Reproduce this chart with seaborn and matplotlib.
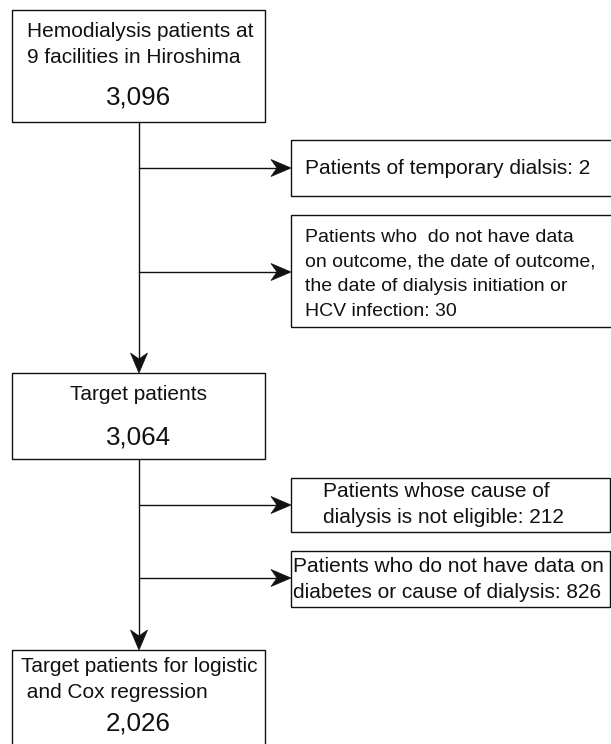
import matplotlib
matplotlib.use("Agg")
import matplotlib.pyplot as plt
import seaborn as sns
from matplotlib.patches import Rectangle, Polygon

sns.set_theme(style = "white")
plt.rcParams["font.family"] = ["Liberation Sans", "DejaVu Sans"]

# flow boxes (main path)
main_labels = ["Hemodialysis patients at\n9 facilities in Hiroshima", "Target patients", "Target patients for logistic\n and Cox regression"]
main_counts = [3096, 3064, 2026]

# exclusion boxes
excl_labels = ["Patients of temporary dialsis: {}",
               "Patients who  do not have data\non outcome, the date of outcome,\nthe date of dialysis initiation or\nHCV infection: {}",
               "Patients whose cause of\ndialysis is not eligible: {}",
               "Patients who do not have data on\ndiabetes or cause of dialysis: {}"]
excl_counts = [2, 30, 212, 826]

# layout in pixels (x0, y0, x1, y1)
main_box = [(12, 10, 265, 122), (12, 373, 265, 459), (12, 650, 265, 770)]
main_label_xy = [(27, 44.5, "left"), (138, 395, "center"), (21, 679.5, "left")]
main_count_y = [97, 437, 723]
excl_box = [(291, 140, 630, 196), (291, 215, 630, 327), (291, 478, 610, 532), (291, 551, 610, 607)]
excl_label_xy = [(305, 168), (305, 274.5), (323, 504.5), (293, 579.5)]
excl_size = [15, 14, 15, 15]
excl_arrow_y = [168, 272, 505, 578]
spine_x = 139
ink = "#111111"
lw = 1.0
line_px = 25


def spacing(size):
    # linespacing that gives about line_px pixels between baselines
    return line_px / (0.81 * size * 100 / 72)


fig = plt.figure(figsize = (6.11, 7.44), dpi = 100)
ax = fig.add_axes([0, 0, 1, 1])
ax.set_xlim(0, 611)
ax.set_ylim(744, 0)
ax.axis("off")


def arrow_head(ax, x, y, direction):
    # draw.io style "classic" head, length 20, width 17, notch 6
    L, W, N = 20, 8.5, 6
    if direction == "right":
        pts = [(x, y), (x - L, y - W), (x - L + N, y), (x - L, y + W)]
    else:
        pts = [(x, y), (x - W, y - L), (x, y - L + N), (x + W, y - L)]
    ax.add_patch(Polygon(pts, closed = True, facecolor = ink, edgecolor = ink, lw = 0.5, zorder = 5))


for i in range(len(main_labels)):
    x0, y0, x1, y1 = main_box[i]
    ax.add_patch(Rectangle((x0, y0), x1 - x0, y1 - y0, fill = False, edgecolor = ink, lw = lw, zorder = 3))
    tx, ty, ha = main_label_xy[i]
    ax.text(tx, ty, main_labels[i], ha = ha, va = "center", multialignment = "left", fontsize = 15, color = ink, linespacing = spacing(15))
    ax.text((x0 + x1) / 2, main_count_y[i], f"{main_counts[i]:,}", ha = "center", va = "center", fontsize = 18.7, color = ink)

# vertical connectors with arrows into the next main box
for i in range(len(main_box) - 1):
    top = main_box[i][3]
    bottom = main_box[i + 1][1]
    ax.plot([spine_x, spine_x], [top, bottom - 10], color = ink, lw = lw, zorder = 2)
    arrow_head(ax, spine_x, bottom, "down")

for i in range(len(excl_labels)):
    x0, y0, x1, y1 = excl_box[i]
    ax.add_patch(Rectangle((x0, y0), x1 - x0, y1 - y0, fill = False, edgecolor = ink, lw = lw, zorder = 3))
    tx, ty = excl_label_xy[i]
    ax.text(tx, ty, excl_labels[i].format(excl_counts[i]), ha = "left", va = "center", fontsize = excl_size[i], color = ink, linespacing = spacing(excl_size[i]))
    ay = excl_arrow_y[i]
    ax.plot([spine_x, x0 - 10], [ay, ay], color = ink, lw = lw, zorder = 2)
    arrow_head(ax, x0, ay, "right")

plt.savefig("out.png", dpi = 100)
